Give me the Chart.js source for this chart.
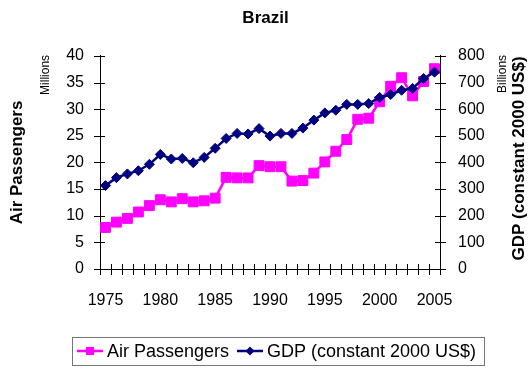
<!DOCTYPE html>
<html>
<head>
<meta charset="utf-8">
<script src="https://cdn.jsdelivr.net/npm/chart.js@4/dist/chart.umd.min.js"></script>
<style>
  html, body { margin: 0; padding: 0; background: #fff; }
  #wrap { width: 531px; height: 369px; position: relative; }
</style>
</head>
<body>
<div id="wrap"><canvas id="c" width="531" height="369"></canvas></div>
<script>
// Brazil: air passengers (millions) and GDP (billions, constant 2000 US$), 1975-2005
const years = [1975, 1976, 1977, 1978, 1979, 1980, 1981, 1982, 1983, 1984,
               1985, 1986, 1987, 1988, 1989, 1990, 1991, 1992, 1993, 1994,
               1995, 1996, 1997, 1998, 1999, 2000, 2001, 2002, 2003, 2004, 2005];
const airPassengers = [7.8, 8.8, 9.5, 10.7, 11.9, 13.0, 12.6, 13.2, 12.6, 12.8,
                       13.3, 17.2, 17.1, 17.1, 19.4, 19.2, 19.2, 16.5, 16.6, 18.0,
                       20.1, 22.1, 24.3, 28.1, 28.3, 31.4, 34.3, 35.9, 32.5, 35.2, 37.6];
const gdp = [313, 343, 357, 369, 393, 430, 413, 415, 399, 419,
             453, 490, 509, 507, 527, 499, 509, 509, 529, 559,
             586, 596, 618, 618, 621, 644, 655, 671, 678, 715, 739];
const leftTicks = [0, 5, 10, 15, 20, 25, 30, 35, 40];
const rightTicks = [0, 100, 200, 300, 400, 500, 600, 700, 800];

const FONT = "'Liberation Sans', Arial, sans-serif";
const PINK = '#FF00FF';
const NAVY = '#000080';

// Tick marks that cross each axis line
const crossTicks = {
  id: 'crossTicks',
  afterDraw(chart) {
    const ctx = chart.ctx;
    const {x, y, y1} = chart.scales;
    ctx.save();
    ctx.strokeStyle = '#000';
    ctx.lineWidth = 1;
    ctx.beginPath();
    const n = x.getLabels().length;
    for (let i = 0; i <= n; i++) {
      const px = Math.round(x.left + i * x.width / n) + 0.5;
      ctx.moveTo(px, x.top - 5);
      ctx.lineTo(px, x.top + 6);
    }
    leftTicks.forEach(v => {
      const py = Math.round(y.getPixelForValue(v)) + 0.5;
      ctx.moveTo(y.right - 6, py);
      ctx.lineTo(y.right + 5, py);
    });
    rightTicks.forEach(v => {
      const py = Math.round(y1.getPixelForValue(v)) + 0.5;
      ctx.moveTo(y1.left - 5, py);
      ctx.lineTo(y1.left + 6, py);
    });
    ctx.stroke();
    ctx.restore();
  }
};

// Axis titles, unit labels and the framed legend
const decorations = {
  id: 'decorations',
  afterDraw(chart) {
    const ctx = chart.ctx;
    const area = chart.chartArea;
    const midY = (area.top + area.bottom) / 2;
    ctx.save();
    ctx.fillStyle = '#000';
    ctx.textBaseline = 'middle';

    const vText = (text, cx, cy, font, align) => {
      ctx.save();
      ctx.translate(cx, cy);
      ctx.rotate(-Math.PI / 2);
      ctx.font = font;
      ctx.textAlign = align;
      ctx.fillText(text, 0, 0);
      ctx.restore();
    };
    vText('Air Passengers', 17, midY, 'bold 17px ' + FONT, 'center');
    vText('Millions', 46, area.top - 1, '12px ' + FONT, 'right');
    vText('Billions', 503, area.top - 1, '12px ' + FONT, 'right');
    vText('GDP (constant 2000 US$)', 519, midY - 4, 'bold 17px ' + FONT, 'center');

    // legend
    const ly = 351;
    ctx.strokeStyle = '#777';
    ctx.lineWidth = 1;
    ctx.strokeRect(72.5, 337.5, 412, 28);

    ctx.font = '18px ' + FONT;
    ctx.textAlign = 'left';

    ctx.strokeStyle = PINK;
    ctx.lineWidth = 2.5;
    ctx.beginPath(); ctx.moveTo(77, ly); ctx.lineTo(103, ly); ctx.stroke();
    ctx.fillStyle = PINK;
    ctx.fillRect(86, ly - 4, 8, 8);
    ctx.fillStyle = '#000';
    ctx.fillText('Air Passengers', 107, ly + 1);

    ctx.strokeStyle = NAVY;
    ctx.beginPath(); ctx.moveTo(237, ly); ctx.lineTo(263, ly); ctx.stroke();
    ctx.fillStyle = NAVY;
    ctx.beginPath();
    ctx.moveTo(250, ly - 4.5); ctx.lineTo(254.5, ly); ctx.lineTo(250, ly + 4.5); ctx.lineTo(245.5, ly);
    ctx.closePath(); ctx.fill();
    ctx.fillStyle = '#000';
    ctx.fillText('GDP (constant 2000 US$)', 267, ly + 1);
    ctx.restore();
  }
};

new Chart(document.getElementById('c'), {
  type: 'line',
  data: {
    labels: years,
    datasets: [
      {
        label: 'Air Passengers',
        data: airPassengers,
        yAxisID: 'y',
        order: 1,
        borderColor: PINK,
        backgroundColor: PINK,
        borderWidth: 2.5,
        pointStyle: 'rect',
        pointRadius: 7,
        pointBorderWidth: 1,
        pointBorderColor: PINK,
        pointBackgroundColor: PINK,
        tension: 0
      },
      {
        label: 'GDP (constant 2000 US$)',
        data: gdp,
        yAxisID: 'y1',
        order: 0,
        borderColor: NAVY,
        backgroundColor: NAVY,
        borderWidth: 2.5,
        pointStyle: 'rectRot',
        pointRadius: 5,
        pointBorderWidth: 1,
        pointBorderColor: NAVY,
        pointBackgroundColor: NAVY,
        tension: 0
      }
    ]
  },
  options: {
    responsive: false,
    animation: false,
    events: [],
    layout: { padding: { top: 0, left: 0, right: 0, bottom: 60 } },
    plugins: {
      legend: { display: false },
      tooltip: { enabled: false },
      title: {
        display: true,
        text: 'Brazil',
        color: '#000',
        font: { family: FONT, size: 17, weight: 'bold' },
        padding: { top: 8, bottom: 27.5 }
      }
    },
    scales: {
      x: {
        type: 'category',
        offset: true,
        grid: { display: false, drawTicks: false },
        border: { display: true, color: '#000', width: 1 },
        ticks: {
          color: '#000',
          font: { family: FONT, size: 16 },
          padding: 22,
          autoSkip: false,
          maxRotation: 0,
          minRotation: 0,
          callback: function (val, i) {
            const yr = years[i];
            return yr % 5 === 0 ? String(yr) : '';
          }
        },
        afterFit(scale) { scale.height = 40; }
      },
      y: {
        position: 'left',
        min: 0,
        max: 40,
        grid: { display: false, drawTicks: false },
        border: { display: true, color: '#000', width: 1 },
        ticks: {
          stepSize: 5,
          color: '#000',
          font: { family: FONT, size: 16 },
          padding: 16
        },
        afterFit(scale) { scale.width = 100; }
      },
      y1: {
        position: 'right',
        min: 0,
        max: 800,
        grid: { display: false, drawTicks: false },
        border: { display: true, color: '#000', width: 1 },
        ticks: {
          stepSize: 100,
          color: '#000',
          font: { family: FONT, size: 16 },
          padding: 18
        },
        afterFit(scale) { scale.width = 91; }
      }
    }
  },
  plugins: [crossTicks, decorations]
});
</script>
</body>
</html>
